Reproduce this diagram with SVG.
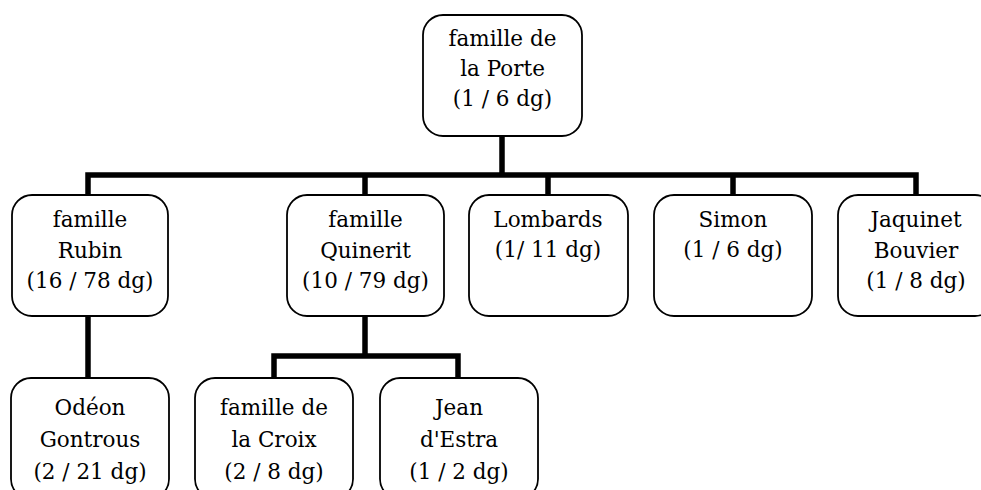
<svg xmlns="http://www.w3.org/2000/svg" width="981" height="490" viewBox="0 0 981 490">
<style>
.box{fill:#fff;stroke:#000;stroke-width:1.8}
.ln{fill:none;stroke:#000;stroke-width:5.5;stroke-linecap:butt;stroke-linejoin:miter}
text{font-family:"DejaVu Serif","Liberation Serif",serif;font-size:21.5px;fill:#000;text-anchor:middle}
</style>
<rect width="981" height="490" fill="#fff"/>
<g id="connectors">
<path class="ln" d="M502,136 V175 M88,195 V175 H916 V195 M365,175 V195 M548,175 V195 M733,175 V195"/>
<path class="ln" d="M88,316 V378"/>
<path class="ln" d="M365,316 V356 M274,378 V356 H458 V378"/>
</g>
<g id="porte">
<rect class="box" x="423" y="15" width="159" height="121" rx="20"/>
<text x="502.5" y="46">famille de</text>
<text x="502.5" y="76">la Porte</text>
<text x="502.5" y="106">(1 / 6 dg)</text>
</g>
<g id="rubin">
<rect class="box" x="12" y="195" width="156" height="121" rx="20"/>
<text x="90" y="227">famille</text>
<text x="90" y="258">Rubin</text>
<text x="90" y="288">(16 / 78 dg)</text>
</g>
<g id="quinerit">
<rect class="box" x="287" y="195" width="157" height="121" rx="20"/>
<text x="365.5" y="227">famille</text>
<text x="365.5" y="258">Quinerit</text>
<text x="365.5" y="288">(10 / 79 dg)</text>
</g>
<g id="lombards">
<rect class="box" x="469" y="195" width="159" height="121" rx="20"/>
<text x="548" y="227">Lombards</text>
<text x="548" y="257">(1/ 11 dg)</text>
</g>
<g id="simon">
<rect class="box" x="654" y="195" width="158" height="121" rx="20"/>
<text x="733" y="227">Simon</text>
<text x="733" y="257">(1 / 6 dg)</text>
</g>
<g id="jaquinet">
<rect class="box" x="838" y="195" width="157" height="121" rx="20"/>
<text x="916" y="227">Jaquinet</text>
<text x="916" y="258">Bouvier</text>
<text x="916" y="288">(1 / 8 dg)</text>
</g>
<g id="odeon">
<rect class="box" x="11" y="378" width="158" height="121" rx="20"/>
<text x="90" y="415">Odéon</text>
<text x="90" y="447">Gontrous</text>
<text x="90" y="479">(2 / 21 dg)</text>
</g>
<g id="croix">
<rect class="box" x="195" y="378" width="158" height="121" rx="20"/>
<text x="274" y="415">famille de</text>
<text x="274" y="447">la Croix</text>
<text x="274" y="479">(2 / 8 dg)</text>
</g>
<g id="estra">
<rect class="box" x="380" y="378" width="158" height="121" rx="20"/>
<text x="459" y="415">Jean</text>
<text x="459" y="447">d'Estra</text>
<text x="459" y="479">(1 / 2 dg)</text>
</g>
</svg>
